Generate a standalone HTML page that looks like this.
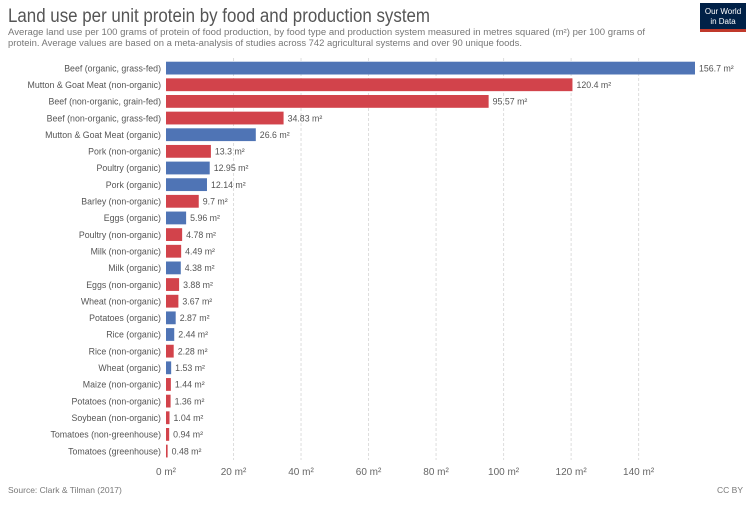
<!DOCTYPE html>
<html><head><meta charset="utf-8"><style>
body{margin:0;background:#fff;font-family:"Liberation Sans",sans-serif;}
svg text{font-family:"Liberation Sans",sans-serif;}
</style></head><body>
<svg width="750" height="500" xmlns="http://www.w3.org/2000/svg">
<text x="8" y="22" font-size="19" fill="#555" textLength="422" lengthAdjust="spacingAndGlyphs">Land use per unit protein by food and production system</text>
<text x="8" y="35" font-size="9" fill="#777" textLength="637" lengthAdjust="spacingAndGlyphs">Average land use per 100 grams of protein of food production, by food type and production system measured in metres squared (m²) per 100 grams of</text>
<text x="8" y="46" font-size="9" fill="#777" textLength="514" lengthAdjust="spacingAndGlyphs">protein. Average values are based on a meta-analysis of studies across 742 agricultural systems and over 90 unique foods.</text>
<g>
<rect x="700" y="3" width="46" height="28" fill="#002147"/>
<rect x="700" y="29" width="46" height="3" fill="#c0392b"/>
<text x="723" y="14" font-size="8" fill="#fff" text-anchor="middle">Our World</text>
<text x="723" y="24" font-size="8" fill="#fff" text-anchor="middle">in Data</text>
</g>
<g id="grid"></g>
<g id="bars"></g>
<g id="axis"></g>
<text x="8" y="493" font-size="8.5" fill="#777">Source: Clark &amp; Tilman (2017)</text>
<text x="743" y="493" font-size="8.5" fill="#777" text-anchor="end">CC BY</text>
</svg>
<script>
const categories=["Beef (organic, grass-fed)","Mutton & Goat Meat (non-organic)","Beef (non-organic, grain-fed)","Beef (non-organic, grass-fed)","Mutton & Goat Meat (organic)","Pork (non-organic)","Poultry (organic)","Pork (organic)","Barley (non-organic)","Eggs (organic)","Poultry (non-organic)","Milk (non-organic)","Milk (organic)","Eggs (non-organic)","Wheat (non-organic)","Potatoes (organic)","Rice (organic)","Rice (non-organic)","Wheat (organic)","Maize (non-organic)","Potatoes (non-organic)","Soybean (non-organic)","Tomatoes (non-greenhouse)","Tomatoes (greenhouse)"];
const values=[156.7,120.4,95.57,34.83,26.6,13.3,12.95,12.14,9.7,5.96,4.78,4.49,4.38,3.88,3.67,2.87,2.44,2.28,1.53,1.44,1.36,1.04,0.94,0.48];
const organic=[1,0,0,0,1,0,1,1,0,1,0,0,1,0,0,1,1,0,1,0,0,0,0,0];
const ticks=[0,20,40,60,80,100,120,140];
const NS="http://www.w3.org/2000/svg";
const x0=166,scale=(695-166)/156.7;
const xs=v=>x0+v*scale;
const y0=61.7,step=16.65,bh=12.8;
const ys=i=>y0+i*step;
function mk(t,a,p){const e=document.createElementNS(NS,t);for(const k in a)e.setAttribute(k,a[k]);p.appendChild(e);return e;}
const grid=document.getElementById('grid'),bars=document.getElementById('bars'),axis=document.getElementById('axis');
ticks.forEach(t=>{
 if(t>0){const l=mk('line',{x1:xs(t),x2:xs(t),y1:58,y2:460,stroke:'#ddd','stroke-dasharray':'3,2'},grid);
 
 }
 const tx=mk('text',{x:xs(t),y:475,'font-size':'10',fill:'#666','text-anchor':'middle'},axis);
 tx.textContent=t+' m²';
 
 
});
categories.forEach((c,i)=>{
 const y=ys(i);
 const lb=mk('text',{x:161,y:y+bh/2+3.2,'font-size':'8.8',fill:'#555','text-anchor':'end'},bars);
 lb.textContent=c;
 
 
 const r=mk('rect',{x:x0,y:y,width:Math.max(1,xs(values[i])-x0),height:bh,fill:organic[i]?'#4f74b5':'#d2434b'},bars);
 
 
 const vl=mk('text',{x:xs(values[i])+4,y:y+bh/2+3.2,'font-size':'8.8',fill:'#555'},bars);
 vl.textContent=values[i]+' m²';
 
 
});
</script>
</body></html>
